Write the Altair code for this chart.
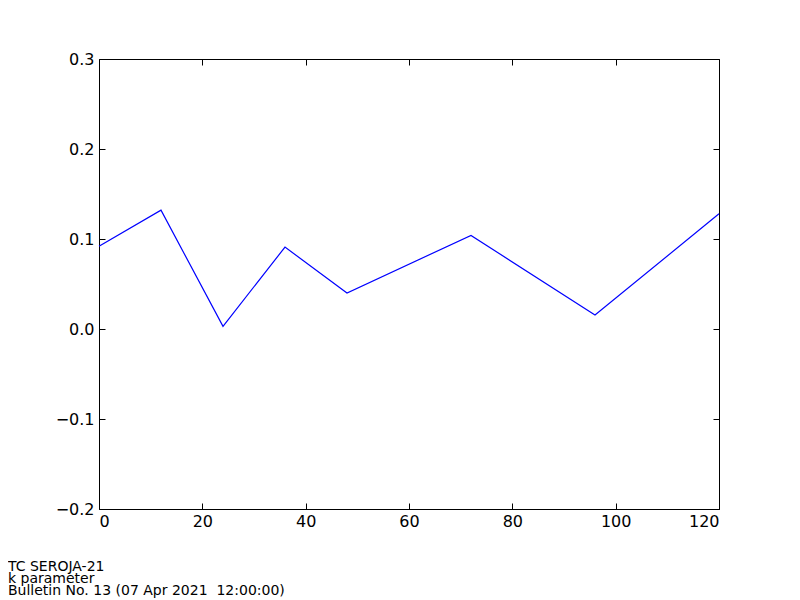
import altair as alt
import pandas as pd

hours = [0, 12, 24, 36, 48, 72, 96, 120]
k_values = [0.092, 0.132, 0.003, 0.091, 0.040, 0.104, 0.0155, 0.128]
x_ticks = [0, 20, 40, 60, 80, 100, 120]
y_ticks = [-0.2, -0.1, 0.0, 0.1, 0.2, 0.3]
title_lines = ["TC SEROJA-21", "k parameter", "Bulletin No. 13 (07 Apr 2021 \u00a012:00:00)"]

df = pd.DataFrame({"hour": hours, "k": k_values})

FONT = "DejaVu Sans"
xs = alt.Scale(domain=[0, 120], nice=False, zero=False)
ys = alt.Scale(domain=[-0.2, 0.3], nice=False, zero=False)

def xaxis(orient, labels, domain, ticks):
    return alt.Axis(orient=orient, values=x_ticks, title=None, grid=False,
                    labels=labels, domain=domain, domainColor="black",
                    ticks=ticks, tickSize=6, tickColor="black",
                    offset=-6 if ticks else 0,
                    labelFont=FONT, labelFontSize=16, labelColor="black",
                    labelPadding=4, labelExpr="format(datum.value, 'd')")

def yaxis(orient, labels, domain, ticks):
    return alt.Axis(orient=orient, values=y_ticks, title=None, grid=False,
                    labels=labels, domain=domain, domainColor="black",
                    ticks=ticks, tickSize=6, tickColor="black",
                    offset=-6 if ticks else 0,
                    labelFont=FONT, labelFontSize=16, labelColor="black",
                    labelPadding=5,
                    labelExpr="replace(format(datum.value, '.1f'), '-', '\u2212')")

main = alt.Chart(df).mark_line(color="#0000ff", strokeWidth=1.2).encode(
    x=alt.X("hour:Q", scale=xs, axis=xaxis("bottom", True, True, False)),
    y=alt.Y("k:Q", scale=ys, axis=yaxis("left", True, True, False)),
)

def guide_layer(xo, yo, domain, ticks):
    return alt.Chart(df).mark_line(opacity=0).encode(
        x=alt.X("hour:Q", scale=xs, axis=xaxis(xo, False, domain, ticks)),
        y=alt.Y("k:Q", scale=ys, axis=yaxis(yo, False, domain, ticks)),
    )

chart = alt.layer(
    main,
    guide_layer("bottom", "left", False, True),
    guide_layer("top", "right", False, True),
    guide_layer("top", "right", True, False),
).resolve_scale(x="independent", y="independent").properties(
    width=620,
    height=450,
    autosize=alt.AutoSizeParams(type="none"),
    padding={"left": 91, "top": 51, "right": 73, "bottom": 92},
    title=alt.TitleParams(
        text=title_lines, orient="bottom", anchor="start", frame="group",
        dx=-91, offset=31, font=FONT, fontSize=14, fontWeight="normal",
        lineHeight=12, color="black",
    ),
).configure_view(stroke=None).configure(background="white")

chart.save("out.html", embed_options={"renderer": "svg", "actions": False})
